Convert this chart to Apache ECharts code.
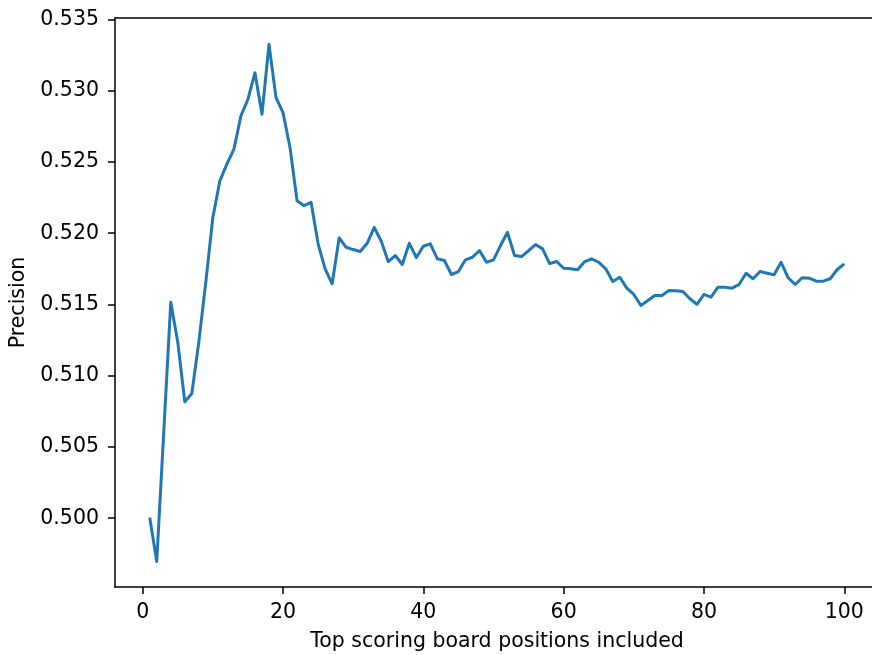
<!DOCTYPE html>
<html>
<head>
<meta charset="utf-8">
<script src="https://cdn.jsdelivr.net/npm/echarts@6/dist/echarts.min.js"></script>
<style>
html,body{margin:0;padding:0;background:#fff;}
#chart{width:872px;height:655px;}
</style>
</head>
<body>
<div id="chart"></div>
<script>
const positions = [];
for (let i = 1; i <= 100; i++) positions.push(i);

const precision = [
  0.50004, 0.49696, 0.50606, 0.51516, 0.51234, 0.50816, 0.50875, 0.51236, 0.51660, 0.52111,
  0.52368, 0.52485, 0.52590, 0.52823, 0.52940, 0.53126, 0.52835, 0.53325, 0.52951, 0.52846,
  0.52600, 0.52228, 0.52193, 0.52216, 0.51925, 0.51750, 0.51645, 0.51967, 0.51901, 0.51885,
  0.51871, 0.51929, 0.52041, 0.51943, 0.51801, 0.51843, 0.51780, 0.51929, 0.51829, 0.51908,
  0.51925, 0.51820, 0.51808, 0.51710, 0.51731, 0.51813, 0.51831, 0.51878, 0.51796, 0.51813,
  0.51913, 0.52006, 0.51843, 0.51836, 0.51878, 0.51920, 0.51890, 0.51787, 0.51801, 0.51754,
  0.51750, 0.51743, 0.51801, 0.51820, 0.51796, 0.51750, 0.51661, 0.51691, 0.51614, 0.51570,
  0.51493, 0.51528, 0.51563, 0.51563, 0.51598, 0.51596, 0.51591, 0.51540, 0.51500, 0.51570,
  0.51551, 0.51621, 0.51621, 0.51614, 0.51640, 0.51719, 0.51680, 0.51731, 0.51719, 0.51708,
  0.51796, 0.51687, 0.51640, 0.51687, 0.51684, 0.51663, 0.51663, 0.51680, 0.51745, 0.51785
];

const xTicks = [0, 20, 40, 60, 80, 100];
const yTicks = [0.500, 0.505, 0.510, 0.515, 0.520, 0.525, 0.530, 0.535];

const xTitle = 'Top scoring board positions included';
const yTitle = 'Precision';

const data = positions.map((p, i) => [p, precision[i]]);

const font = 'DejaVu Sans';
const fs = 20.5;
const chart = echarts.init(document.getElementById('chart'), null, {renderer: 'canvas'});
chart.setOption({
  animation: false,
  backgroundColor: '#ffffff',
  grid: {left: 115, right: -7, top: 18, bottom: 68, containLabel: false, outerBoundsMode: 'none'},
  xAxis: [{
    type: 'value',
    min: -3.95,
    max: 104.95,
    name: xTitle,
    nameLocation: 'middle',
    nameGap: 44,
    nameTextStyle: {fontFamily: font, fontSize: fs, color: '#000'},
    axisLine: {show: true, onZero: false, lineStyle: {color: '#000', width: 1.5}},
    axisTick: {show: true, length: 7, lineStyle: {color: '#000', width: 1.5}, customValues: xTicks},
    axisLabel: {fontFamily: font, fontSize: fs, color: '#000', margin: 15, customValues: xTicks,
      formatter: v => String(v)},
    splitLine: {show: false}
  }, {
    type: 'value',
    position: 'top',
    min: -3.95,
    max: 104.95,
    axisLine: {show: true, onZero: false, lineStyle: {color: '#000', width: 1.5}},
    axisTick: {show: false},
    axisLabel: {show: false},
    splitLine: {show: false}
  }],
  yAxis: {
    type: 'value',
    min: 0.49517,
    max: 0.5351,
    name: yTitle,
    nameLocation: 'middle',
    nameGap: 85,
    nameRotate: 90,
    nameTextStyle: {fontFamily: font, fontSize: fs, color: '#000'},
    axisLine: {show: true, onZero: false, lineStyle: {color: '#000', width: 1.5}},
    axisTick: {show: true, length: 7, lineStyle: {color: '#000', width: 1.5}, customValues: yTicks},
    axisLabel: {fontFamily: font, fontSize: fs, color: '#000', margin: 16, customValues: yTicks,
      formatter: v => v.toFixed(3)},
    splitLine: {show: false}
  },
  series: [{
    type: 'line',
    xAxisIndex: 0,
    data: data,
    showSymbol: false,
    symbol: 'none',
    lineStyle: {color: '#1f77b4', width: 3, join: 'round', cap: 'butt'},
    silent: true
  }]
});
</script>
</body>
</html>
